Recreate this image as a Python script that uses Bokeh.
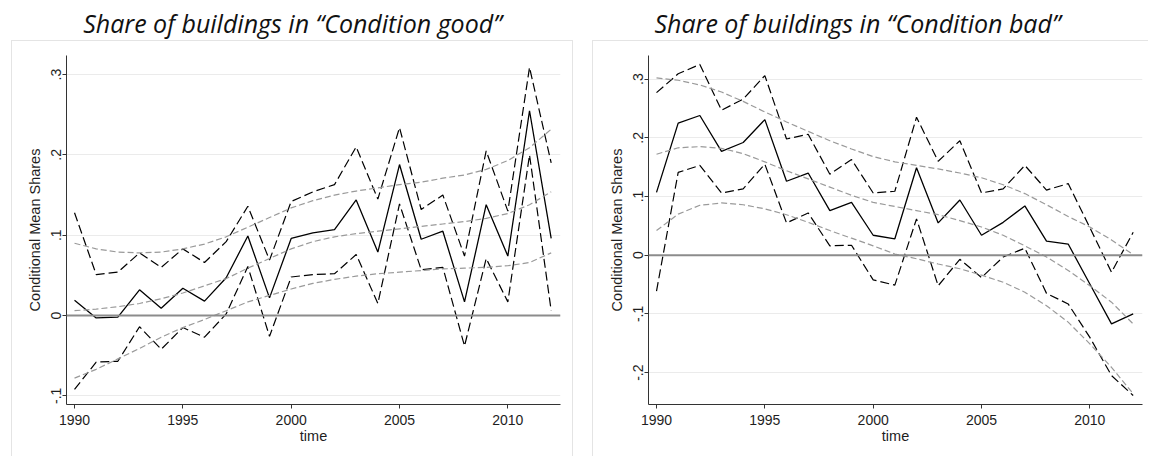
from bokeh.plotting import figure
from bokeh.layouts import column, row
from bokeh.models import Range1d, FixedTicker, Span, Label, Spacer, ColumnDataSource
from bokeh.embed import file_html
from bokeh.resources import INLINE

# ---------------- data ----------------
YEARS = [1990, 1991, 1992, 1993, 1994, 1995, 1996, 1997, 1998, 1999, 2000, 2001,
         2002, 2003, 2004, 2005, 2006, 2007, 2008, 2009, 2010, 2011, 2012]

# Panel 1: Condition good
GOOD_MEAN = [0.019, -0.003, -0.002, 0.032, 0.009, 0.034, 0.018, 0.047, 0.099, 0.022, 0.096, 0.103,
             0.107, 0.144, 0.079, 0.188, 0.095, 0.105, 0.017, 0.138, 0.074, 0.255, 0.096]
GOOD_UPPER = [0.128, 0.051, 0.054, 0.078, 0.060, 0.083, 0.066, 0.092, 0.136, 0.069, 0.142, 0.154,
              0.163, 0.210, 0.145, 0.234, 0.132, 0.150, 0.074, 0.205, 0.130, 0.309, 0.190]
GOOD_LOWER = [-0.092, -0.058, -0.057, -0.014, -0.042, -0.015, -0.027, 0.002, 0.061, -0.026, 0.048, 0.051,
              0.052, 0.076, 0.015, 0.139, 0.057, 0.060, -0.038, 0.071, 0.017, 0.200, 0.006]
GOOD_TREND_UPPER = [0.090, 0.083, 0.079, 0.078, 0.079, 0.083, 0.089, 0.098, 0.110, 0.122, 0.134, 0.143,
                    0.150, 0.155, 0.159, 0.163, 0.166, 0.171, 0.175, 0.182, 0.193, 0.209, 0.232]
GOOD_TREND_MID = [0.006, 0.008, 0.011, 0.015, 0.021, 0.028, 0.037, 0.046, 0.059, 0.071, 0.083, 0.092,
                  0.098, 0.102, 0.105, 0.108, 0.111, 0.114, 0.117, 0.121, 0.127, 0.138, 0.154]
GOOD_TREND_LOWER = [-0.078, -0.067, -0.054, -0.041, -0.027, -0.015, -0.005, 0.006, 0.017, 0.025, 0.033, 0.040,
                    0.045, 0.049, 0.052, 0.054, 0.056, 0.058, 0.059, 0.060, 0.062, 0.066, 0.078]

# Panel 2: Condition bad
BAD_MEAN = [0.107, 0.225, 0.238, 0.177, 0.192, 0.231, 0.126, 0.140, 0.076, 0.090, 0.034, 0.028,
            0.149, 0.055, 0.094, 0.034, 0.056, 0.084, 0.024, 0.019, -0.049, -0.117, -0.100]
BAD_UPPER = [0.277, 0.309, 0.325, 0.247, 0.266, 0.306, 0.198, 0.206, 0.138, 0.163, 0.106, 0.109,
             0.235, 0.160, 0.195, 0.106, 0.113, 0.153, 0.111, 0.122, 0.047, -0.029, 0.039]
BAD_LOWER = [-0.061, 0.141, 0.153, 0.106, 0.113, 0.155, 0.055, 0.072, 0.016, 0.017, -0.042, -0.051,
             0.062, -0.052, -0.007, -0.038, -0.003, 0.012, -0.065, -0.083, -0.140, -0.205, -0.239]
BAD_TREND_UPPER = [0.302, 0.298, 0.290, 0.278, 0.262, 0.244, 0.227, 0.211, 0.195, 0.181, 0.168, 0.159,
                   0.153, 0.147, 0.140, 0.132, 0.120, 0.105, 0.086, 0.066, 0.048, 0.026, 0.001]
BAD_TREND_MID = [0.172, 0.183, 0.185, 0.182, 0.173, 0.159, 0.144, 0.130, 0.116, 0.102, 0.090, 0.083,
                 0.076, 0.069, 0.059, 0.048, 0.034, 0.016, -0.003, -0.026, -0.052, -0.080, -0.117]
BAD_TREND_LOWER = [0.042, 0.070, 0.085, 0.089, 0.086, 0.079, 0.069, 0.056, 0.042, 0.029, 0.016, 0.002,
                   -0.006, -0.015, -0.023, -0.034, -0.046, -0.063, -0.086, -0.114, -0.151, -0.191, -0.236]

X_TICKS = [1990, 1995, 2000, 2005, 2010]
X_TICK_LABELS = ["1990", "1995", "2000", "2005", "2010"]
Y_TICKS_GOOD = [-0.1, 0.0, 0.1, 0.2, 0.3]
Y_TICK_LABELS_GOOD = ["-.1", "0", ".1", ".2", ".3"]
Y_TICKS_BAD = [-0.2, -0.1, 0.0, 0.1, 0.2, 0.3]
Y_TICK_LABELS_BAD = ["-.2", "-.1", "0", ".1", ".2", ".3"]

TITLE_GOOD = "Share of buildings in \u201cCondition good\u201d"
TITLE_BAD = "Share of buildings in \u201cCondition bad\u201d"
Y_LABEL = "Conditional Mean Shares"
X_LABEL = "time"

# ---------------- styling ----------------
AXIS_FONT = "Liberation Sans"
TEXT_COLOR = "#1e1e1e"
AXIS_COLOR = "#333333"
TREND_COLOR = "#9a9a9a"
PANEL_BORDER = "#e4e4e4"
PANEL_H = 416


def make_panel(mean, upper, lower, t_up, t_mid, t_low, yticks, ylabels, y_start, y_end,
               border_left, border_right, shadow):
    p = figure(frame_width=494, frame_height=349,
               min_border_left=border_left, min_border_right=border_right,
               min_border_top=15, min_border_bottom=PANEL_H - 15 - 349,
               x_range=Range1d(1989.63, 2012.43), y_range=Range1d(y_start, y_end),
               output_backend="svg", toolbar_location=None,
               border_fill_color=None, background_fill_color="white",
               outline_line_color=None,
               styles={"box-shadow": shadow})

    src = ColumnDataSource(dict(x=YEARS, mean=mean, upper=upper, lower=lower,
                                tu=t_up, tm=t_mid, tl=t_low))

    # grid and zero line
    p.xgrid.visible = False
    p.ygrid.ticker = FixedTicker(ticks=yticks)
    p.ygrid.grid_line_color = "#ebebeb"
    p.ygrid.grid_line_width = 1
    p.add_layout(Span(location=0, dimension="width", line_color="#8c8c8c", line_width=2))

    # data lines
    p.line("x", "mean", source=src, line_color="black", line_width=1.3)
    p.line("x", "upper", source=src, line_color="black", line_width=1.2, line_dash="9 4")
    p.line("x", "lower", source=src, line_color="black", line_width=1.2, line_dash="9 4")
    for col in ("tu", "tm", "tl"):
        p.line("x", col, source=src, line_color=TREND_COLOR, line_width=1.2, line_dash="6 3")

    # axes
    xa = p.xaxis[0]
    xa.ticker = FixedTicker(ticks=X_TICKS)
    xa.major_label_overrides = {t: l for t, l in zip(X_TICKS, X_TICK_LABELS)}
    xa.axis_label = X_LABEL
    ya = p.yaxis[0]
    ya.ticker = FixedTicker(ticks=yticks)
    ya.major_label_overrides = {t: l for t, l in zip(yticks, ylabels)}
    ya.major_label_orientation = "vertical"
    ya.axis_label = Y_LABEL
    for ax in (xa, ya):
        ax.axis_line_color = AXIS_COLOR
        ax.axis_line_width = 1
        ax.major_tick_line_color = AXIS_COLOR
        ax.major_tick_in = 0
        ax.major_tick_out = 4
        ax.minor_tick_line_color = None
        ax.major_label_text_font = AXIS_FONT
        ax.major_label_text_font_size = "14px"
        ax.major_label_text_color = TEXT_COLOR
        ax.axis_label_text_font = AXIS_FONT
        ax.axis_label_text_font_size = "14.5px"
        ax.axis_label_text_font_style = "normal"
        ax.axis_label_text_color = TEXT_COLOR
    xa.major_label_standoff = 6
    xa.axis_label_standoff = 0
    ya.major_label_standoff = 1
    ya.axis_label_standoff = 6
    return p


left = make_panel(GOOD_MEAN, GOOD_UPPER, GOOD_LOWER,
                  GOOD_TREND_UPPER, GOOD_TREND_MID, GOOD_TREND_LOWER,
                  Y_TICKS_GOOD, Y_TICK_LABELS_GOOD, -0.1108, 0.3238,
                  55, 13, "inset 1px 1px 0 %s, inset -1px 0 0 %s" % (PANEL_BORDER, PANEL_BORDER))
right = make_panel(BAD_MEAN, BAD_UPPER, BAD_LOWER,
                   BAD_TREND_UPPER, BAD_TREND_MID, BAD_TREND_LOWER,
                   Y_TICKS_BAD, Y_TICK_LABELS_BAD, -0.2543, 0.3402,
                   56, 6, "inset 1px 1px 0 %s" % PANEL_BORDER)

# title band (page coordinates: 0..1148 wide, 0..40 tall)
BAND_W, BAND_H = 1148, 40
top = figure(frame_width=BAND_W, frame_height=BAND_H, min_border=0,
             x_range=Range1d(0, BAND_W), y_range=Range1d(0, BAND_H),
             x_axis_type=None, y_axis_type=None,
             output_backend="svg", toolbar_location=None,
             outline_line_color=None, border_fill_color=None, background_fill_color=None)
top.grid.visible = False
for txt, cx in ((TITLE_GOOD, 292), (TITLE_BAD, 857)):
    top.add_layout(Label(x=cx, y=17.7, text=txt, text_align="center", text_baseline="alphabetic",
                         text_font="Open Sans", text_font_style="italic",
                         text_font_size="25px", text_color="#111111"))

layout = column(top, row(Spacer(width=11, height=PANEL_H), left,
                         Spacer(width=19, height=PANEL_H), right))

open("out.html", "w").write(file_html(layout, INLINE))
